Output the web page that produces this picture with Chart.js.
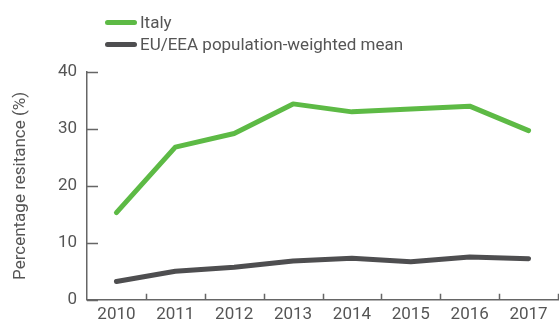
<!DOCTYPE html>
<html>
<head>
<meta charset="utf-8">
<script src="https://cdn.jsdelivr.net/npm/chart.js@4/dist/chart.umd.min.js"></script>
<style>
  body { margin: 0; background: #fff; }
  #wrap { position: relative; width: 559px; height: 320px; }
  #legend { position: absolute; left: 105px; top: 11px; font-family: Roboto, "Open Sans", sans-serif; font-size: 17px; color: #555; }
  .item { display: flex; align-items: center; height: 22px; }
  .swatch { width: 32px; height: 5px; border-radius: 3px; margin-right: 3px; }
</style>
</head>
<body>
<div id="wrap">
  <canvas id="chart" width="559" height="320"></canvas>
  <div id="legend"></div>
</div>
<script>
// Données
const years = ["2010", "2011", "2012", "2013", "2014", "2015", "2016", "2017"];
const italy = [15.3, 26.8, 29.2, 34.4, 33.0, 33.5, 34.0, 29.7];
const euMean = [3.2, 5.0, 5.7, 6.8, 7.3, 6.7, 7.5, 7.2];
const seriesNames = ["Italy", "EU/EEA population-weighted mean"];
const seriesColors = ["#5dba45", "#4e4e50"];

const axisColor = "#666";
const textColor = "#555";
const font = { family: "Roboto, 'Open Sans', sans-serif", size: 17 };

// petites graduations vers l'intérieur
const innerTicks = {
    id: "innerTicks",
    afterDraw(chart) {
        const { ctx, scales } = chart;
        const x = scales.x, y = scales.y;
        ctx.save();
        ctx.strokeStyle = axisColor;
        ctx.lineWidth = 1.5;
        ctx.beginPath();
        y.ticks.forEach((t) => {
            const py = Math.round(y.getPixelForValue(t.value)) + 0.5;
            ctx.moveTo(x.left, py);
            ctx.lineTo(x.left + 11, py);
        });
        const n = years.length;
        for (let i = 1; i <= n; i++) {
            const px = i < n
                ? (x.getPixelForValue(i - 1) + x.getPixelForValue(i)) / 2
                : x.right;
            ctx.moveTo(Math.round(px) + 0.5, y.bottom);
            ctx.lineTo(Math.round(px) + 0.5, y.bottom - 6);
        }
        ctx.stroke();
        ctx.restore();
    },
};

const datasets = [italy, euMean].map((vals, i) => ({
    label: seriesNames[i],
    data: vals,
    borderColor: seriesColors[i],
    borderWidth: 5,
    borderCapStyle: "round",
    borderJoinStyle: "round",
    pointRadius: 0,
    tension: 0,
    fill: false,
}));

new Chart(document.getElementById("chart"), {
    type: "line",
    data: { labels: years, datasets: datasets },
    options: {
        responsive: false,
        animation: false,
        layout: { padding: { top: 72, right: 1, left: 0, bottom: 0 } },
        plugins: { legend: { display: false }, tooltip: { enabled: false } },
        scales: {
            x: {
                offset: true,
                grid: { display: true, drawOnChartArea: false, drawTicks: false },
                border: { color: axisColor, width: 1.5 },
                ticks: { color: textColor, font: font, padding: 5, maxRotation: 0 },
                afterFit: (s) => { s.height = 20; },
            },
            y: {
                min: 0,
                max: 40,
                grid: { display: true, drawOnChartArea: false, drawTicks: false },
                border: { color: axisColor, width: 1.5 },
                ticks: { stepSize: 10, color: textColor, font: font, padding: 10 },
                title: { display: true, text: "Percentage resitance (%)", color: textColor, font: font, padding: { top: 11, bottom: 0 } },
                afterFit: (s) => { s.width = 87; },
            },
        },
    },
    plugins: [innerTicks],
});

// légende HTML
const legend = document.getElementById("legend");
seriesNames.forEach((name, i) => {
    const row = document.createElement("div");
    row.className = "item";
    row.innerHTML = `<span class="swatch" style="background:${seriesColors[i]}"></span>${name}`;
    legend.appendChild(row);
});
</script>
</body>
</html>
